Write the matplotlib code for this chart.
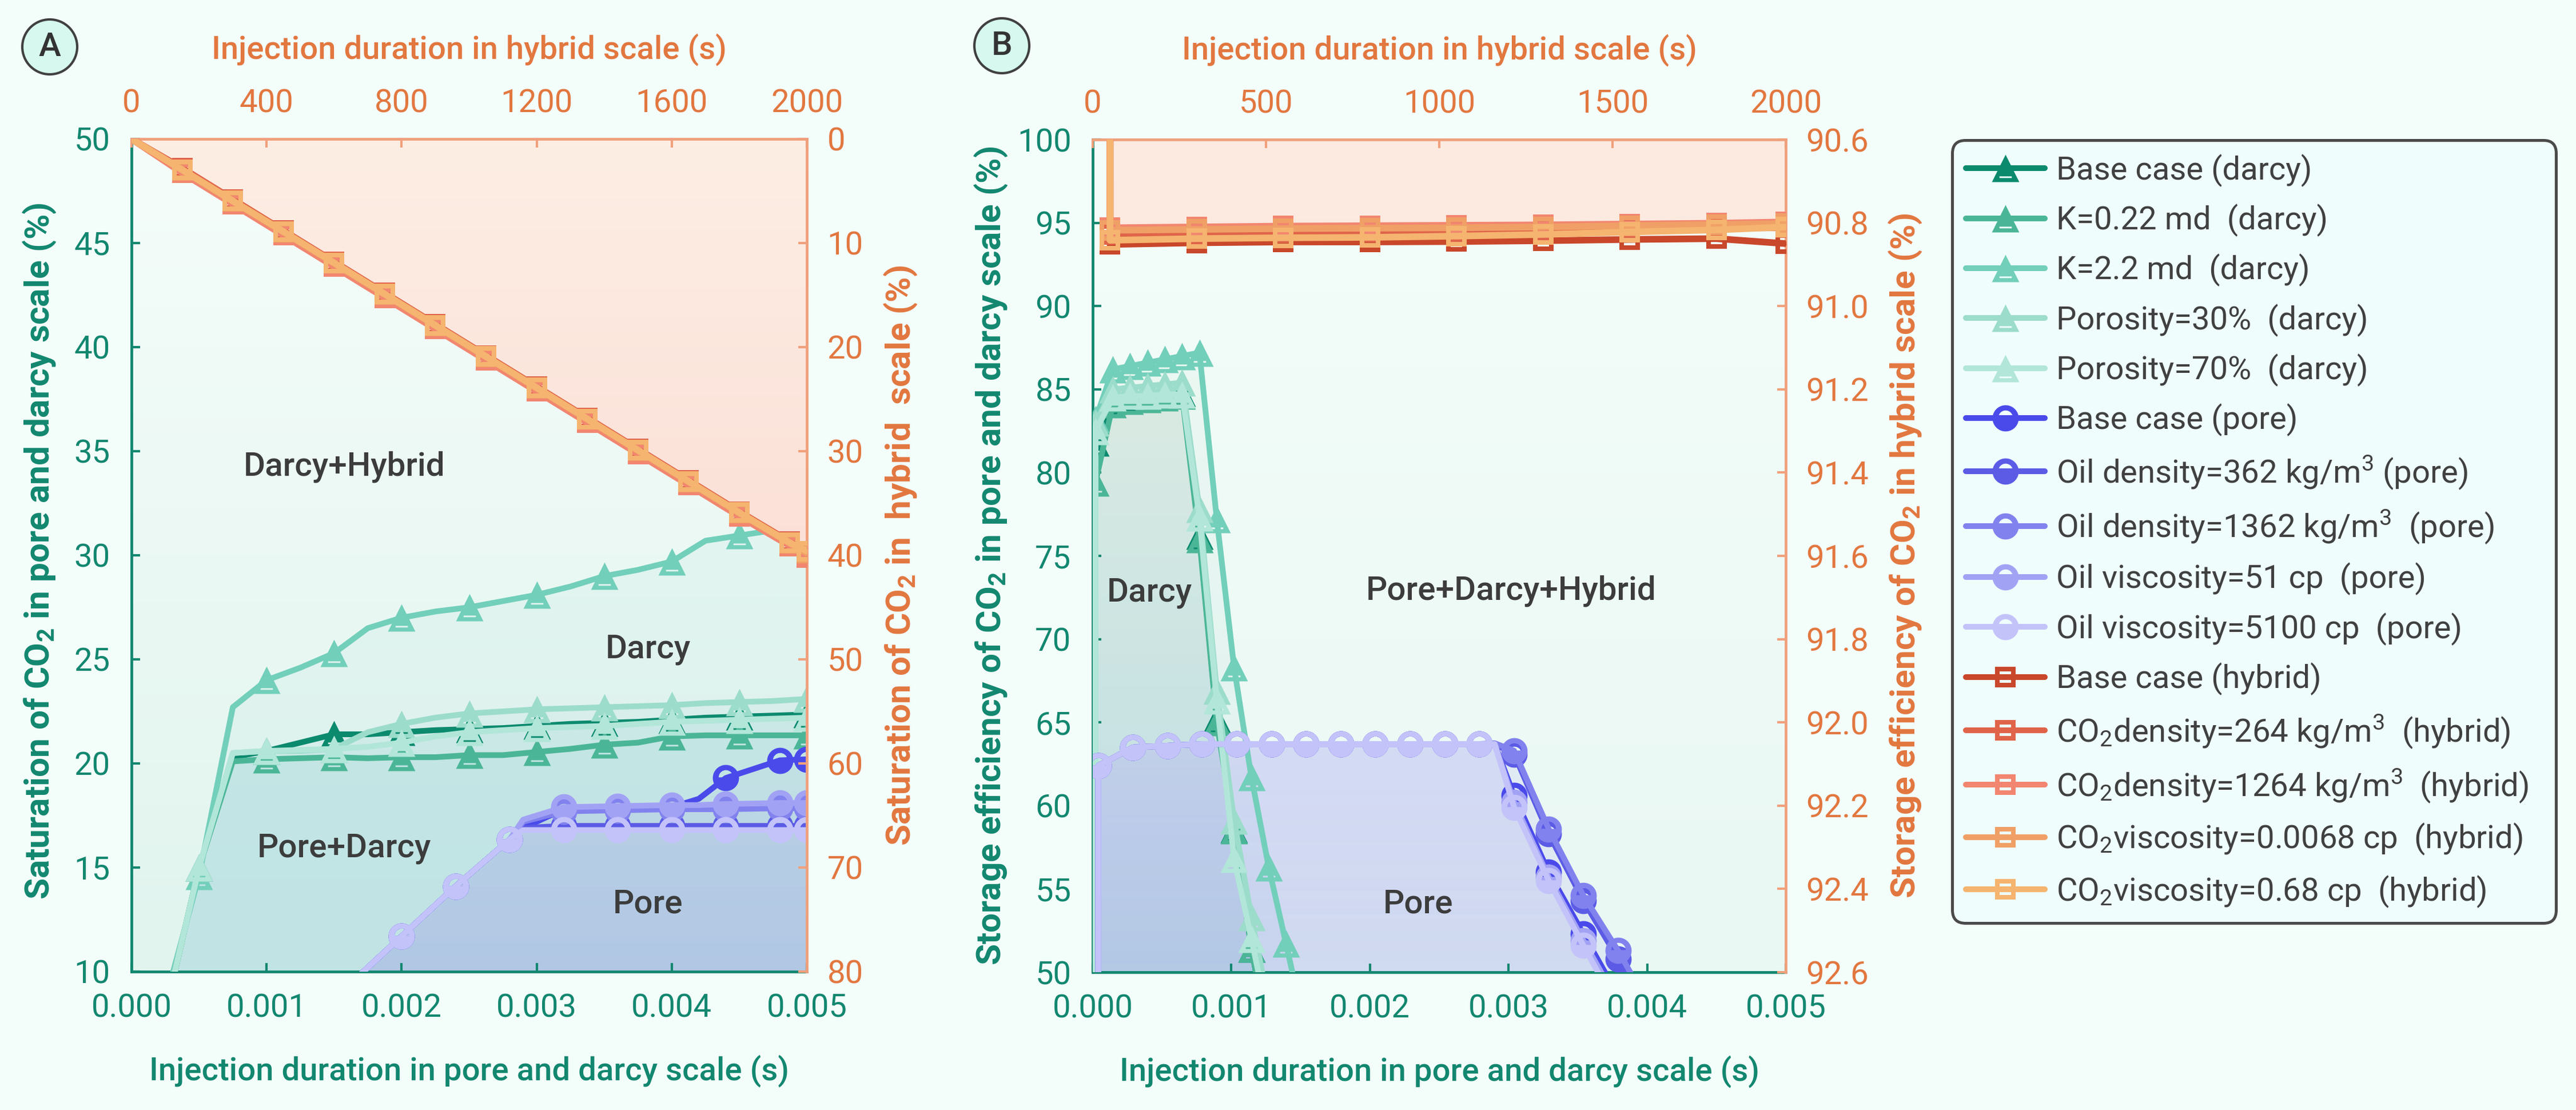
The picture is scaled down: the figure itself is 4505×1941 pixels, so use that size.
import numpy as np
import matplotlib
matplotlib.use("Agg")
import matplotlib.pyplot as plt
from matplotlib.path import Path
from matplotlib.colors import to_rgb
from matplotlib.lines import Line2D
import matplotlib.patches as mpatches

plt.rcParams['font.family'] = ['Roboto', 'DejaVu Sans']
plt.rcParams['mathtext.default'] = 'regular'

# ------------------------------------------------------------------ data
# Panel A : darcy scale (saturation %, left axis), time in s
tA_darcy = [0, 0.00025, 0.0005, 0.00075, 0.001, 0.00125, 0.0015, 0.00175, 0.002,
            0.00225, 0.0025, 0.00275, 0.003, 0.00325, 0.0035, 0.00375, 0.004,
            0.00425, 0.0045, 0.00475, 0.005]
A_darcy_base = [1.0, 8.0, 15.0, 20.3, 20.6, 21.0, 21.4, 21.4, 21.5, 21.6, 21.65, 21.7,
                21.8, 21.9, 21.95, 22.0, 22.1, 22.2, 22.25, 22.3, 22.35]
A_darcy_k022 = [1.0, 8.0, 15.0, 20.1, 20.2, 20.25, 20.3, 20.25, 20.3, 20.3, 20.4, 20.4,
                20.55, 20.7, 20.9, 21.0, 21.3, 21.35, 21.35, 21.35, 21.35]
A_darcy_k22 = [1.0, 8.6, 14.6, 22.7, 24.0, 24.6, 25.3, 26.5, 27.0, 27.3, 27.5, 27.8,
               28.1, 28.5, 29.0, 29.3, 29.7, 30.7, 30.95, 31.2, 31.5]
A_darcy_p30 = [1.0, 8.0, 15.0, 20.5, 20.6, 20.6, 20.7, 21.5, 21.9, 22.2, 22.4, 22.5,
               22.6, 22.65, 22.7, 22.75, 22.8, 22.9, 22.95, 23.0, 23.1]
A_darcy_p70 = [1.0, 8.0, 15.0, 20.5, 20.6, 20.65, 20.7, 20.8, 21.0, 21.3, 21.5, 21.6,
               21.7, 21.75, 21.8, 21.9, 22.0, 22.05, 22.1, 22.15, 22.2]

# Panel A : pore scale
tA_pore = [0.0016, 0.002, 0.0024, 0.0028, 0.0029, 0.0032, 0.0036, 0.004, 0.0042,
           0.0044, 0.0048, 0.005]
A_pore_base = [9.3, 11.7, 14.1, 16.35, 16.9, 17.8, 17.85, 17.9, 18.3, 19.3, 20.15, 20.2]
A_pore_d362 = [9.3, 11.7, 14.1, 16.35, 16.9, 17.0, 17.0, 17.0, 17.0, 17.0, 17.0, 17.0]
A_pore_d1362 = [9.3, 11.7, 14.1, 16.35, 17.2, 17.7, 17.75, 17.8, 17.8, 17.8, 17.85, 17.85]
A_pore_v51 = [9.3, 11.7, 14.1, 16.35, 17.3, 17.9, 17.95, 18.0, 18.0, 18.05, 18.1, 18.1]
A_pore_v5100 = [9.3, 11.7, 14.1, 16.35, 16.8, 16.8, 16.8, 16.8, 16.8, 16.8, 16.8, 16.8]

# Panel A : hybrid scale (right axis, top axis)
tA_hyb = [0, 150, 300, 450, 600, 750, 900, 1050, 1200, 1350, 1500, 1650, 1800, 1950, 2000]
A_hyb_base = [0, 3.0, 6.0, 9.0, 12.0, 15.0, 18.0, 21.0, 24.0, 27.0, 30.0, 33.0, 36.0, 38.9, 39.9]
A_hyb_d264 = [0, 2.8, 5.8, 8.8, 11.8, 14.8, 17.8, 20.8, 23.8, 26.8, 29.8, 32.8, 35.8, 38.7, 39.6]
A_hyb_d1264 = [0, 3.25, 6.25, 9.25, 12.25, 15.25, 18.25, 21.25, 24.25, 27.25, 30.25, 33.25,
               36.25, 39.1, 40.2]
A_hyb_v0068 = [0, 3.0, 6.0, 8.95, 11.95, 14.95, 17.95, 20.95, 23.95, 26.95, 29.95, 32.95, 35.95, 38.85, 39.8]
A_hyb_v068 = [0, 2.95, 5.95, 8.9, 11.9, 14.9, 17.9, 20.9, 23.9, 26.9, 29.9, 32.9, 35.9, 38.8, 39.6]

# Panel B : darcy scale (storage efficiency %)
tB_darcy = [0.00002, 0.00002, 0.000145, 0.00027, 0.000395, 0.00052, 0.000645, 0.00077,
            0.000895, 0.00102, 0.001145, 0.00127, 0.001395, 0.00152]
B_darcy_base = [40, 81.8, 84.3, 84.5, 84.6, 84.7, 84.8, 76.2, 65.2, 58.6, 51.4, 46.0, 42.0, 40.0]
B_darcy_k022 = [40, 79.4, 84.1, 84.3, 84.4, 84.5, 84.6, 76.0, 65.0, 58.5, 51.4, 46.0, 42.0, 40.0]
B_darcy_k22 = [40, 83.2, 86.2, 86.4, 86.6, 86.8, 87.0, 87.2, 77.2, 68.3, 61.7, 56.3, 51.7, 47.0]
B_darcy_p30 = [40, 83.0, 85.0, 85.1, 85.2, 85.3, 85.4, 77.8, 66.9, 59.1, 53.3, 48.0, 44.0, 41.0]
B_darcy_p70 = [40, 82.5, 84.5, 84.6, 84.6, 84.7, 84.7, 77.3, 66.3, 56.8, 52.0, 47.0, 43.0, 40.0]

# Panel B : pore scale
tB_pore = [0.00004, 0.00004, 0.00029, 0.00054, 0.00079, 0.00104, 0.00129, 0.00154, 0.00179,
           0.00204, 0.00229, 0.00254, 0.00279, 0.0029, 0.00304, 0.00329, 0.00354, 0.00379, 0.00404]
B_pore_base = [40, 62.4, 63.5, 63.6, 63.7, 63.7, 63.7, 63.7, 63.7, 63.7, 63.7, 63.7, 63.7, 63.7,
               60.6, 56.0, 52.3, 48.6, 45.0]
B_pore_d362 = [40, 62.4, 63.5, 63.6, 63.7, 63.7, 63.7, 63.7, 63.7, 63.7, 63.7, 63.7, 63.7, 63.7,
               63.1, 58.3, 54.3, 50.8, 47.2]
B_pore_d1362 = [40, 62.4, 63.5, 63.6, 63.7, 63.7, 63.7, 63.7, 63.7, 63.7, 63.7, 63.7, 63.7, 63.75,
                63.3, 58.6, 54.6, 51.3, 47.6]
B_pore_v51 = [40, 62.4, 63.5, 63.6, 63.7, 63.7, 63.7, 63.7, 63.7, 63.7, 63.7, 63.7, 63.7, 63.7,
              60.2, 55.7, 51.9, 48.2, 44.6]
B_pore_v5100 = [40, 62.4, 63.5, 63.6, 63.7, 63.7, 63.7, 63.7, 63.7, 63.7, 63.7, 63.7, 63.7, 63.7,
                59.9, 55.5, 51.6, 47.8, 44.2]

# Panel B : hybrid scale (right axis 90.6 -> 92.6)
tB_hyb = [50, 50, 300, 550, 800, 1050, 1300, 1550, 1800, 2000]
B_hyb_base = [90.0, 90.852, 90.848, 90.846, 90.846, 90.845, 90.843, 90.840, 90.838, 90.850]
B_hyb_d264 = [90.0, 90.828, 90.826, 90.824, 90.823, 90.822, 90.820, 90.816, 90.812, 90.812]
B_hyb_d1264 = [90.0, 90.812, 90.810, 90.808, 90.807, 90.806, 90.805, 90.803, 90.801, 90.798]
B_hyb_v0068 = [90.0, 90.818, 90.816, 90.814, 90.813, 90.812, 90.810, 90.807, 90.804, 90.802]
B_hyb_v068 = [90.0, 90.842, 90.838, 90.836, 90.835, 90.832, 90.828, 90.822, 90.817, 90.810]

darcy_labels = ["Base case (darcy)", "K=0.22 md  (darcy)", "K=2.2 md  (darcy)",
                "Porosity=30%  (darcy)", "Porosity=70%  (darcy)"]
pore_labels = ["Base case (pore)", "Oil density=362 kg/m$^3$ (pore)",
               "Oil density=1362 kg/m$^3$  (pore)", "Oil viscosity=51 cp  (pore)",
               "Oil viscosity=5100 cp  (pore)"]
hyb_labels = ["Base case (hybrid)", "CO$_2$density=264 kg/m$^3$  (hybrid)",
              "CO$_2$density=1264 kg/m$^3$  (hybrid)", "CO$_2$viscosity=0.0068 cp  (hybrid)",
              "CO$_2$viscosity=0.68 cp  (hybrid)"]

xticksA = [0.000, 0.001, 0.002, 0.003, 0.004, 0.005]
yticksA = [10, 15, 20, 25, 30, 35, 40, 45, 50]
xticksAh = [0, 400, 800, 1200, 1600, 2000]
yticksAh = [0, 10, 20, 30, 40, 50, 60, 70, 80]
yticksB = [50, 55, 60, 65, 70, 75, 80, 85, 90, 95, 100]
xticksBh = [0, 500, 1000, 1500, 2000]
yticksBh = [90.6, 90.8, 91.0, 91.2, 91.4, 91.6, 91.8, 92.0, 92.2, 92.4, 92.6]

# ------------------------------------------------------------------ styles
darcy_colors = ['#0b8a6e', '#4bb697', '#72cfba', '#9cdccb', '#b1e6d8']
pore_colors = ['#4a4aeb', '#5b5be6', '#8282ee', '#a2a2f5', '#c3c3fa']
hyb_colors = ['#c9472b', '#e0644a', '#f28670', '#f0a066', '#f5b46f']
TEAL = '#12876f'
ORANGE = '#e2773f'
ORSP = '#f0a07c'
DARK = '#3c3c3c'


def poly_path(pts):
    verts = list(pts) + [pts[0]]
    codes = [Path.MOVETO] + [Path.LINETO] * (len(pts) - 1) + [Path.CLOSEPOLY]
    return verts, codes


def compound(parts):
    V, C = [], []
    for p in parts:
        v, c = poly_path(p)
        V += v
        C += c
    return Path(V, C)


# triangle with white dash near the bottom
TRI = compound([
    [(0, 1), (-1, -1), (1, -1)],
    [(-0.45, -0.58), (0.45, -0.58), (0.45, -0.70), (-0.45, -0.70)],
])
# circle with white upper half-disc
th = np.linspace(0, 2 * np.pi, 80, endpoint=False)
outer_c = [(np.cos(a), np.sin(a)) for a in th]
th2 = np.linspace(0, np.pi, 40)
hole_c = [(0.55 * np.cos(a), 0.05 + 0.55 * np.sin(a)) for a in th2][::-1]
CIRC = compound([outer_c, hole_c])
# square with white interior and central dot
SQR = compound([
    [(-1, -1), (1, -1), (1, 1), (-1, 1)],
    [(-0.58, -0.58), (-0.58, 0.58), (0.58, 0.58), (0.58, -0.58)],
    [(-0.2, -0.2), (0.2, -0.2), (0.2, 0.2), (-0.2, 0.2)],
])

W, H, DPI = 4505, 1941, 300
fig = plt.figure(figsize=(W / DPI, H / DPI), dpi=DPI, facecolor='#f3fdfa')


def px_rect(l, t, r, b):
    return [l / W, 1 - b / H, (r - l) / W, (b - t) / H]


def vgrad(ax, path, c_top, c_bot, a_top, a_bot, z):
    n = 256
    f = np.linspace(0, 1, n)[:, None]
    ct, cb = np.array(to_rgb(c_top)), np.array(to_rgb(c_bot))
    rgb = ct * (1 - f) + cb * f
    a = a_top * (1 - f) + a_bot * f
    img = np.concatenate([rgb, a], axis=1).reshape(n, 1, 4)
    im = ax.imshow(img, extent=[0, 1, 0, 1], transform=ax.transAxes, aspect='auto',
                   origin='upper', interpolation='bilinear', zorder=z)
    if path is not None:
        im.set_clip_path(path, transform=ax.transData)
    return im


def region(ax, x, y1, y2):
    coll = ax.fill_between(x, y1, y2, facecolor='none', edgecolor='none', lw=0)
    p = coll.get_paths()[0]
    coll.remove()
    return p


def style_axes(ax, axh, xlim, ylim, xhlim, yhlim, xt, yt, xth, yth, xfmt, yfmt, xhfmt, yhfmt):
    ax.set_xlim(*xlim)
    ax.set_ylim(*ylim)
    axh.set_xlim(*xhlim)
    axh.set_ylim(*yhlim)
    ax.set_xticks(xt)
    ax.set_xticklabels([xfmt.format(v) for v in xt])
    ax.set_yticks(yt)
    ax.set_yticklabels([yfmt.format(v) for v in yt])
    axh.set_xticks(xth)
    axh.set_xticklabels([xhfmt.format(v) for v in xth])
    axh.set_yticks(yth)
    axh.set_yticklabels([yhfmt.format(v) for v in yth])
    ax.patch.set_visible(False)
    axh.patch.set_visible(False)
    for s in ['top', 'right']:
        ax.spines[s].set_visible(False)
    for s in ['left', 'bottom']:
        axh.spines[s].set_visible(False)
    for s in ['left', 'bottom']:
        ax.spines[s].set_color(TEAL)
        ax.spines[s].set_linewidth(1.15)
    for s in ['top', 'right']:
        axh.spines[s].set_color(ORSP)
        axh.spines[s].set_linewidth(1.15)
    ax.tick_params(direction='in', length=3.6, width=1.0, color=TEAL, labelcolor=TEAL,
                   labelsize=13.5, pad=9, top=False, right=False)
    axh.xaxis.tick_top()
    axh.yaxis.tick_right()
    axh.tick_params(direction='in', length=3.6, width=1.0, color=ORSP, labelcolor=ORANGE,
                    labelsize=13.5, pad=8.5, bottom=False, left=False)
    axh.xaxis.set_label_position('top')
    axh.yaxis.set_label_position('right')


def plot_series(ax, t, series, colors, marker, ms, mevery, z, lw=2.4):
    for vals, col in zip(series, colors):
        ax.plot(t, vals, color=col, lw=lw, marker=marker, ms=ms, mew=0, markevery=mevery,
                zorder=z, solid_joinstyle='round', solid_capstyle='round')


# ================================================================== Panel A
axA = fig.add_axes(px_rect(230, 243, 1411, 1699))
axAh = fig.add_axes(px_rect(230, 243, 1411, 1699), label='Ah')

darcyA = [A_darcy_base, A_darcy_k022, A_darcy_k22, A_darcy_p30, A_darcy_p70]
poreA = [A_pore_base, A_pore_d362, A_pore_d1362, A_pore_v51, A_pore_v5100]
hybA = [A_hyb_base, A_hyb_d264, A_hyb_d1264, A_hyb_v0068, A_hyb_v068]

vgrad(axA, None, '#f5fdfa', '#e1f4ee', 1.0, 1.0, 0)
for vals in darcyA:
    vgrad(axA, region(axA, tA_darcy, 0, vals), '#7fd6c0', '#8ccad8', 0.085, 0.085, 1)
for vals in poreA:
    vgrad(axA, region(axA, tA_pore, 0, vals), '#d6d6f8', '#9a9af0', 0.02, 0.085, 1.1)
hyb_top_A = np.min(np.array(hybA), axis=0)
vgrad(axAh, region(axAh, tA_hyb, 0, hyb_top_A), '#fdeee4', '#f9d2ca', 1.0, 1.0, 1)

plot_series(axA, tA_darcy, darcyA, darcy_colors, TRI, 11.5, list(range(2, 21, 2)), 3)
plot_series(axA, tA_pore, poreA, pore_colors, CIRC, 11.0, [0, 1, 2, 3, 5, 6, 7, 9, 10, 11], 4)
plot_series(axAh, tA_hyb, hybA, hyb_colors, SQR, 8.5, list(range(1, 15)), 5, lw=2.8)

style_axes(axA, axAh, (0, 0.005), (10, 50), (0, 2000), (80, 0), xticksA, yticksA, xticksAh,
           yticksAh, '{:.3f}', '{:d}', '{:d}', '{:d}')

lab_kw = dict(fontsize=14.5, fontweight='bold')
axA.set_ylabel('Saturation of CO$_2$ in pore and darcy scale (%)', color=TEAL, va='center',
               **lab_kw)
axA.yaxis.set_label_coords(-0.1363, 0.505)
axAh.set_ylabel('Saturation of CO$_2$ in  hybrid  scale (%)', color=ORANGE, va='center',
                rotation=90, **lab_kw)
axAh.yaxis.set_label_coords(1.1389, 0.5)
xl_kw = dict(fontsize=13.5, fontweight='medium')
axA.set_xlabel('Injection duration in pore and darcy scale (s)', color=TEAL, va='center', **xl_kw)
axA.xaxis.set_label_coords(0.5, -0.1195)
axAh.set_xlabel('Injection duration in hybrid scale (s)', color=ORANGE, va='center', **xl_kw)
axAh.xaxis.set_label_coords(0.5, 1.1078)

txt_kw = dict(fontsize=14, fontweight='medium', color=DARK, ha='center', va='center', zorder=10)
axA.text(0.003815, 45.03, 'Hybrid', **txt_kw)
axA.text(0.001575, 34.24, 'Darcy+Hybrid', **txt_kw)
axA.text(0.003823, 25.47, 'Darcy', **txt_kw)
axA.text(0.001575, 15.93, 'Pore+Darcy', **txt_kw)
axA.text(0.003823, 13.25, 'Pore', **txt_kw)

# ================================================================== Panel B
axB = fig.add_axes(px_rect(1911, 244, 3123, 1700))
axBh = fig.add_axes(px_rect(1911, 244, 3123, 1700), label='Bh')

darcyB = [B_darcy_base, B_darcy_k022, B_darcy_k22, B_darcy_p30, B_darcy_p70]
poreB = [B_pore_base, B_pore_d362, B_pore_d1362, B_pore_v51, B_pore_v5100]
hybB = [B_hyb_base, B_hyb_d264, B_hyb_d1264, B_hyb_v0068, B_hyb_v068]

vgrad(axB, None, '#f4fdfa', '#e9f8f3', 1.0, 1.0, 0)
for vals in darcyB:
    vgrad(axB, region(axB, tB_darcy, 0, vals), '#dde8cc', '#94c6da', 0.13, 0.13, 1)
for vals in poreB:
    vgrad(axB, region(axB, tB_pore, 0, vals), '#faf8ff', '#a8a8f0', 0.22, 0.085, 1.1)
hyb_top_B = np.min(np.array(hybB)[:, 1:], axis=0)
vgrad(axBh, region(axBh, tB_hyb[1:], 90.0, hyb_top_B), '#fdebe2', '#f9d6cd', 1.0, 1.0, 1)

plot_series(axB, tB_darcy, darcyB, darcy_colors, TRI, 11.5, list(range(1, 14)), 3)
plot_series(axB, tB_pore, poreB, pore_colors, CIRC, 11.0,
            [1, 2, 3, 4, 5, 6, 7, 8, 9, 10, 11, 12, 14, 15, 16, 17, 18], 4)
plot_series(axBh, tB_hyb, hybB, hyb_colors, SQR, 8.5, list(range(1, 10)), 5, lw=2.8)

style_axes(axB, axBh, (0, 0.005), (50, 100), (0, 2000), (92.6, 90.6), xticksA, yticksB,
           xticksBh, yticksBh, '{:.3f}', '{:d}', '{:d}', '{:.1f}')

axB.set_ylabel('Storage efficiency of CO$_2$ in pore and darcy scale (%)', color=TEAL,
               va='center', **lab_kw)
axB.yaxis.set_label_coords(-0.1469, 0.5)
axBh.set_ylabel('Storage efficiency of CO$_2$ in hybrid scale (%)', color=ORANGE, va='center',
                rotation=90, **lab_kw)
axBh.yaxis.set_label_coords(1.1724, 0.5)
axB.set_xlabel('Injection duration in pore and darcy scale (s)', color=TEAL, va='center', **xl_kw)
axB.xaxis.set_label_coords(0.5, -0.1195)
axBh.set_xlabel('Injection duration in hybrid scale (s)', color=ORANGE, va='center', **xl_kw)
axBh.xaxis.set_label_coords(0.5, 1.1078)

axB.text(0.002504, 96.99, 'Hybrid', **txt_kw)
axB.text(0.000408, 72.8, 'Darcy', **txt_kw)
axB.text(0.00302, 72.9, 'Pore+Darcy+Hybrid', **txt_kw)
axB.text(0.002347, 54.1, 'Pore', **txt_kw)

# ------------------------------------------------------------------ panel letters
for cx, cy, letter in [(87, 82, 'A'), (1752, 80, 'B')]:
    e = mpatches.Ellipse((cx / W, 1 - cy / H), 96 / W, 96 / H, transform=fig.transFigure,
                         facecolor='#d6f8ee', edgecolor='#404040', lw=1.0)
    fig.patches.append(e)
    fig.text(cx / W, 1 - cy / H, letter, ha='center', va='center', fontsize=14,
             fontweight='medium', color='#333333')

# ------------------------------------------------------------------ legend
handles = []
for cols, mk, ms in [(darcy_colors, TRI, 11.5), (pore_colors, CIRC, 11.0), (hyb_colors, SQR, 8.5)]:
    for c in cols:
        handles.append(Line2D([], [], color=c, lw=2.4, marker=mk, ms=ms, mew=0,
                              solid_capstyle='round'))
labels = darcy_labels + pore_labels + hyb_labels
leg = fig.legend(handles, labels, loc='upper left',
                 bbox_to_anchor=(3414 / W, 1 - 1699 / H, (4470 - 3414) / W, (1699 - 245) / H),
                 mode='expand', borderaxespad=0, fontsize=13.5, handlelength=2.45,
                 handletextpad=0.36, labelspacing=0.53, borderpad=0.43, frameon=True,
                 fancybox=True, labelcolor='#404040')
fr = leg.get_frame()
fr.set_facecolor('#effdfd')
fr.set_edgecolor('#4a4a4a')
fr.set_linewidth(1.2)
fr.set_alpha(1)
fr.set_boxstyle('round,pad=0,rounding_size=0.4')

fig.savefig('out.png', dpi=DPI, facecolor=fig.get_facecolor())
